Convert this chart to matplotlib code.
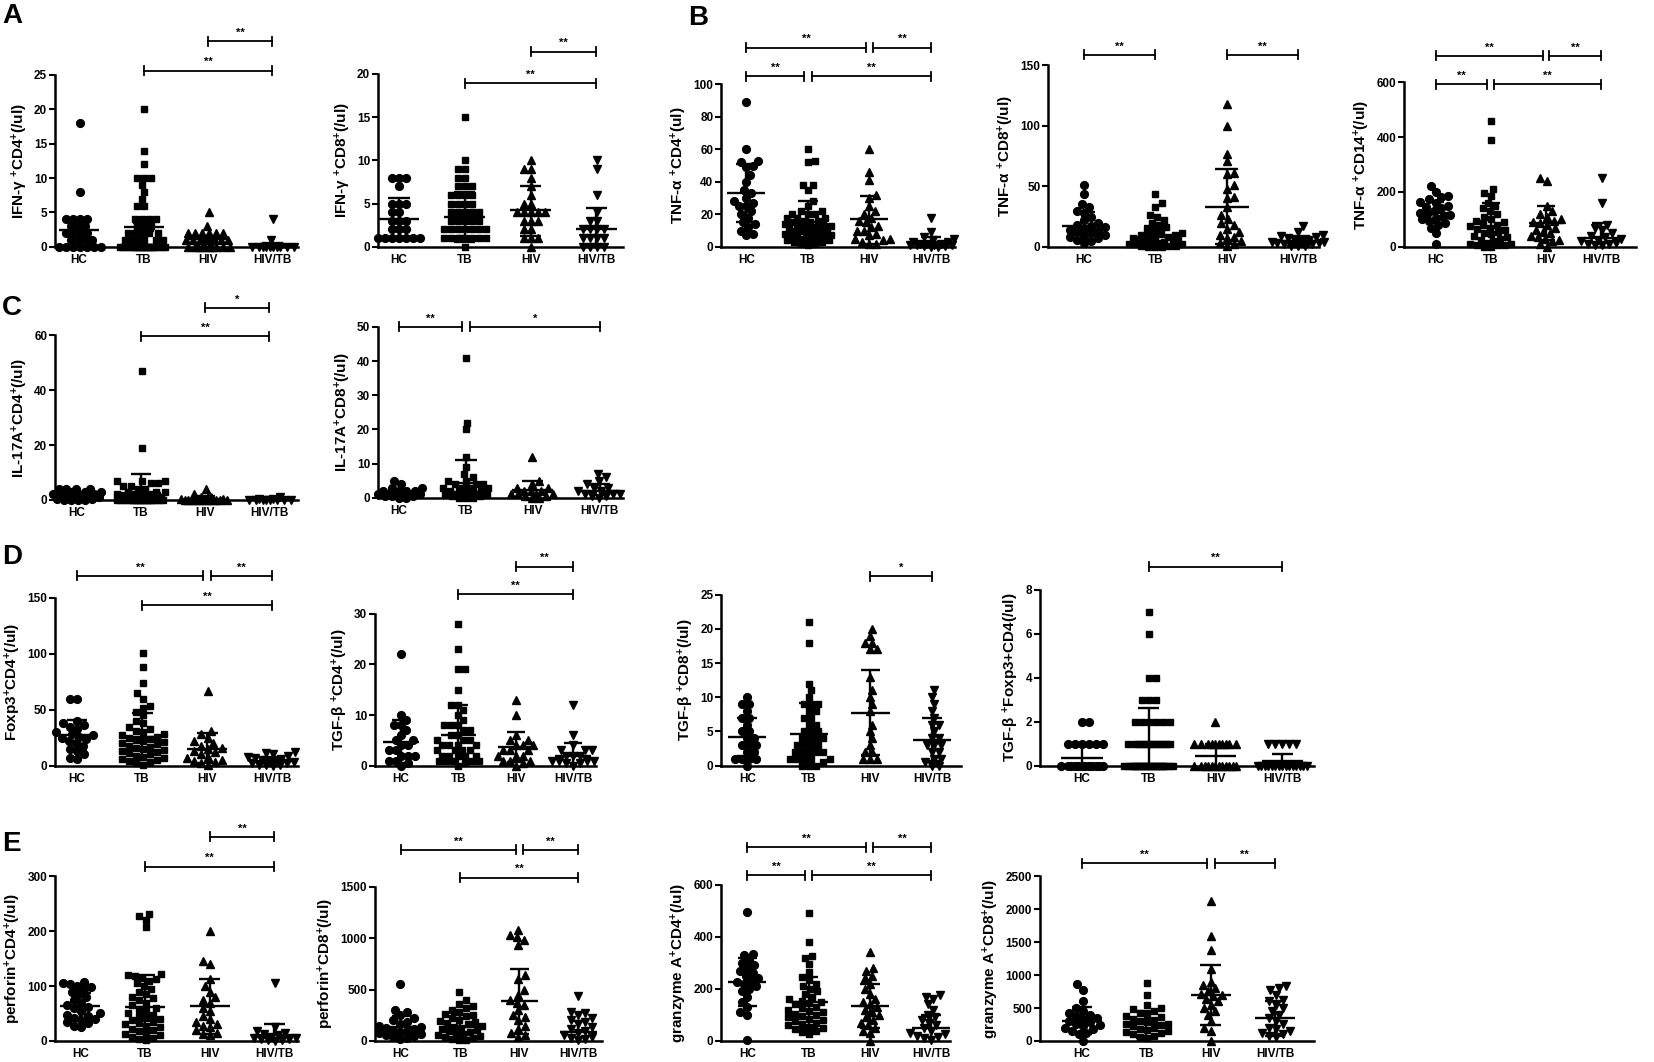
import numpy as np
import matplotlib
matplotlib.use("Agg")
import matplotlib.pyplot as plt

W, H = 1654, 1062
RW, RH = 1567.0, 1007.0          # reference layout measured at this scale
GROUPS = ["HC", "TB", "HIV", "HIV/TB"]
MARKERS = [("o", 5.6), ("s", 5.0), ("^", 6.0), ("v", 6.0)]

# ---- data (per group: HC, TB, HIV, HIV/TB) -------------------------------
IFNG_CD4 = [
    [18, 8, 4, 4, 4, 4, 3, 3, 3, 2, 2, 2, 2, 1, 1, 1, 1, 0, 0, 0, 0, 0, 0, 0],
    [20, 14, 12, 10, 10, 10, 9, 8, 7, 6, 6, 4, 4, 4, 4, 3, 3, 3, 2, 2, 2, 2, 2,
     1, 1, 1, 1, 1, 1] + [0] * 20,
    [5, 3, 2, 2, 2, 2, 2, 2, 1, 1, 1, 1, 1, 1, 1, 1] + [0] * 10,
    [4, 1] + [0] * 10,
]
IFNG_CD4_BAR = ([2.4, 2.9, 1.2, 0.2], [1.6, 2.3, 0.8, 0], [3.3, 3.5, 1.6, 0.5])

IFNG_CD8 = [
    [8, 8, 8, 7, 5, 5, 5, 4, 4, 3, 3, 3, 2, 2, 2, 1, 1, 1, 1, 1, 1, 1],
    [15, 10, 9, 9, 8, 8, 7, 7, 7, 6, 6, 6, 6, 5, 5, 5, 5, 4, 4, 4, 4, 4, 3, 3, 3,
     3, 3, 2, 2, 2, 2, 2, 2, 2, 1, 1, 1, 1, 1, 1, 1, 1, 0],
    [10, 9, 9, 8, 7, 6, 5, 5, 4, 4, 4, 4, 4, 3, 3, 3, 2, 2, 1, 1, 1, 0],
    [10, 9, 6, 4, 3, 3, 2, 2, 2, 2, 1, 1, 1, 1, 0, 0, 0, 0],
]
IFNG_CD8_BAR = ([3.2, 3.5, 4.2, 2.0], [0.8, 0.6, 1.3, 0], [5.6, 6.3, 7.0, 4.5])

TNFA_CD4 = [
    [89, 60, 53, 52, 50, 49, 44, 40, 35, 33, 30, 28, 27, 25, 25, 22, 20, 18, 15,
     14, 12, 10, 8, 7],
    [60, 53, 52, 38, 38, 35, 28, 25, 22, 22, 20, 20, 20, 18, 18, 18, 16, 16, 15,
     15, 14, 14, 13, 13, 12, 12, 11, 11, 10, 10, 10, 9, 9, 8, 8, 7, 7, 6, 6, 5,
     5, 5, 4, 4, 3, 3, 2, 2, 1],
    [60, 46, 41, 32, 30, 25, 22, 20, 18, 16, 15, 13, 12, 10, 10, 8, 7, 5, 5, 4,
     3, 2, 2],
    [18, 9, 6, 5, 4, 3, 3, 2, 2, 2, 1, 1, 1, 1, 0.5, 0.5, 0, 0],
]
TNFA_CD4_BAR = ([33, 15.5, 17, 2], [15, 3, 2, 0], [51, 28, 31, 6])

TNFA_CD8 = [
    [51, 44, 35, 33, 30, 28, 25, 22, 20, 18, 17, 16, 15, 14, 13, 12, 11, 10, 9,
     8, 7, 6, 5, 3],
    [44, 36, 33, 26, 25, 22, 20, 18, 16, 15, 14, 12, 11, 10, 10, 9, 8, 8, 7, 6,
     5, 5, 4, 4, 3, 3, 2, 2, 2, 1, 1, 1, 0, 0, 0],
    [118, 100, 77, 71, 61, 60, 51, 48, 41, 40, 33, 26, 23, 20, 18, 15, 12, 10,
     8, 7, 5, 3, 2, 1],
    [17, 12, 10, 9, 8, 7, 6, 5, 5, 4, 4, 3, 3, 2, 2, 1, 1, 0.5],
]
TNFA_CD8_BAR = ([17, 8, 33, 5], [5, 0, 2, 1], [29, 17, 64, 9])

TNFA_CD14 = [
    [220, 200, 185, 180, 175, 165, 160, 150, 145, 140, 130, 125, 120, 115, 110,
     105, 100, 95, 85, 80, 70, 50, 10],
    [460, 390, 210, 195, 185, 160, 150, 140, 130, 120, 110, 100, 95, 90, 85, 80,
     75, 70, 65, 60, 55, 50, 45, 40, 35, 30, 25, 20, 15, 10, 10, 5, 5, 5, 0, 0],
    [250, 240, 150, 130, 120, 110, 100, 95, 90, 85, 80, 70, 60, 55, 50, 40, 35,
     30, 25, 20, 10, 0],
    [250, 160, 80, 70, 60, 50, 40, 35, 30, 25, 20, 15, 10, 10, 5, 5],
]
TNFA_CD14_BAR = ([125, 70, 88, 32], [85, 0, 25, 0], [165, 160, 150, 85])

IL17_CD4 = [
    [4, 4, 4, 4, 3, 3, 3, 2, 2, 2, 2, 1, 1, 1, 1, 1, 0.5, 0.5, 0, 0, 0, 0],
    [47, 19, 7, 7, 7, 6, 6, 5, 5, 4, 4, 3, 3, 3, 2, 2, 2, 2, 1, 1, 1, 1, 1, 1]
    + [0] * 20,
    [4, 2, 1, 1, 1, 0.5, 0.5, 0.5] + [0] * 12,
    [1, 0.5, 0.5] + [0] * 8,
]
IL17_CD4_BAR = ([1.0, 2.5, 0.5, 0.2], [0, 0, 0, 0], [2.0, 9.5, 1.5, 0.8])

IL17_CD8 = [
    [5, 4, 3, 3, 2, 2, 2, 2, 1, 1, 1, 1, 1, 1, 0.5, 0.5, 0.5, 0, 0],
    [41, 22, 20, 12, 9, 7, 6, 5, 5, 4, 4, 4, 3, 3, 3, 3, 2, 2, 2, 2, 2, 1, 1, 1,
     1, 1, 1, 0.5, 0.5, 0, 0, 0],
    [12, 5, 4, 3, 3, 2, 2, 2, 1, 1, 1, 1, 0.5, 0.5, 0, 0],
    [7, 6, 5, 4, 3, 3, 2, 2, 1, 1, 1, 0.5, 0.5, 0],
]
IL17_CD8_BAR = ([1.5, 4.2, 2.3, 2.0], [0.5, 0, 0, 0], [2.5, 11, 5, 4])

FOXP3_CD4 = [
    [60, 60, 40, 38, 36, 35, 33, 30, 28, 27, 26, 25, 24, 22, 20, 18, 15, 13, 10,
     7, 6],
    [101, 88, 74, 65, 60, 53, 52, 48, 45, 40, 38, 35, 33, 31, 30, 28, 27, 26, 25,
     24, 23, 22, 21, 20, 19, 18, 17, 16, 15, 14, 13, 12, 11, 10, 9, 8, 7, 6, 5,
     4, 3, 2, 1],
    [67, 31, 28, 25, 22, 20, 18, 16, 15, 13, 12, 10, 8, 7, 5, 4, 3, 2, 1],
    [12, 11, 10, 9, 8, 7, 6, 5, 4, 3, 3, 2, 2, 1, 1, 0.5, 0],
]
FOXP3_CD4_BAR = ([27, 26, 15, 4], [13, 5, 2, 0], [41, 47, 29, 8])

TGFB_CD4 = [
    [22, 10, 9, 8, 8, 7, 6, 5, 5, 4, 4, 3, 3, 2, 2, 2, 1, 1, 0.5, 0],
    [28, 23, 19, 19, 15, 12, 12, 11, 10, 9, 8, 8, 8, 7, 7, 6, 6, 5, 5, 5, 4, 4,
     4, 4, 3, 3, 3, 3, 2, 2, 2, 2, 2, 1, 1, 1, 1, 1, 0.5, 0],
    [13, 10, 6, 5, 5, 4, 4, 4, 3, 3, 3, 2, 2, 2, 1, 1, 1, 0.5, 0],
    [12, 6, 4, 3, 3, 3, 2, 2, 2, 1, 1, 1, 1, 0.5, 0.5, 0],
]
TGFB_CD4_BAR = ([4.7, 6.0, 3.7, 2.0], [0.5, 0, 0.7, 0], [9.0, 12, 6.6, 4.4])

TGFB_CD8 = [
    [10, 9, 9, 8, 7, 7, 6, 5, 5, 4, 4, 3, 3, 3, 2, 2, 1, 1, 1, 1, 0],
    [21, 18, 12, 11, 10, 9, 9, 9, 8, 8, 7, 7, 6, 6, 5, 5, 5, 4, 4, 4, 4, 3, 3, 3,
     3, 2, 2, 2, 2, 2, 1, 1, 1, 1, 1, 0.5, 0, 0, 0],
    [20, 19, 18, 18, 17, 17, 13, 11, 10, 9, 8, 6, 5, 4, 3, 2, 2, 1, 1, 1],
    [11, 10, 9, 8, 7, 6, 6, 5, 4, 4, 3, 3, 3, 2, 2, 1, 1, 0.5, 0, 0],
]
TGFB_CD8_BAR = ([4.2, 4.6, 7.7, 3.8], [1.4, 0, 1.5, 0.7], [7.0, 9.2, 14.0, 7.0])

TGFB_FOXP3 = [
    [2, 2] + [1] * 6 + [0] * 12,
    [7, 6, 4, 4, 3, 3, 3] + [2] * 6 + [1] * 12 + [0] * 25,
    [2] + [1] * 10 + [0] * 12,
    [1] * 5 + [0] * 15,
]
TGFB_FOXP3_BAR = ([0.35, 1.0, 0.45, 0.2], [0, 0, 0, 0], [0.9, 2.6, 1.0, 0.55])

PERF_CD4 = [
    [108, 105, 103, 100, 98, 95, 90, 85, 80, 75, 70, 65, 62, 60, 55, 50, 48, 45,
     42, 40, 38, 35, 32, 28, 25],
    [232, 227, 220, 207, 122, 120, 118, 115, 112, 110, 105, 100, 95, 90, 85, 80,
     78, 75, 70, 65, 60, 58, 55, 50, 48, 45, 42, 40, 38, 35, 32, 30, 28, 25, 22,
     20, 18, 15, 12, 10, 8, 5, 3, 1],
    [200, 145, 140, 112, 100, 90, 80, 75, 70, 60, 55, 45, 40, 35, 30, 28, 25, 20,
     15, 12, 10],
    [105, 25, 18, 15, 12, 10, 8, 6, 5, 4, 3, 2, 1, 0],
]
PERF_CD4_BAR = ([63, 61, 63, 10], [38, 3, 12, 0], [88, 120, 113, 30])

PERF_CD8 = [
    [550, 300, 280, 250, 220, 200, 180, 160, 150, 140, 130, 120, 110, 100, 90,
     80, 70, 60, 50, 40, 30, 20],
    [480, 400, 360, 340, 320, 300, 280, 260, 250, 240, 220, 200, 190, 180, 170,
     160, 150, 140, 130, 120, 110, 100, 90, 80, 70, 60, 50, 40, 30, 20, 10, 5],
    [1080, 1030, 1010, 980, 930, 640, 600, 500, 450, 400, 370, 350, 300, 250,
     230, 200, 150, 120, 80, 60, 40],
    [440, 280, 270, 250, 220, 200, 180, 160, 140, 120, 100, 80, 60, 40, 30, 20,
     10],
]
PERF_CD8_BAR = ([140, 140, 385, 90], [35, 30, 65, 0], [245, 250, 705, 195])

GZMA_CD4 = [
    [495, 335, 330, 310, 300, 290, 280, 270, 260, 250, 240, 230, 225, 220, 210,
     200, 190, 170, 150, 130, 110, 100, 5],
    [490, 380, 325, 320, 295, 265, 245, 235, 220, 210, 200, 190, 180, 170, 160,
     155, 150, 145, 140, 130, 125, 120, 115, 110, 105, 100, 95, 90, 85, 80, 75,
     70, 65, 60, 55, 50, 45, 40, 35, 25],
    [340, 280, 270, 250, 240, 220, 200, 180, 160, 150, 140, 130, 120, 110, 100,
     90, 80, 70, 60, 50, 40, 30, 0],
    [175, 170, 160, 140, 120, 100, 90, 80, 70, 60, 50, 40, 30, 25, 20, 15, 10, 5],
]
GZMA_CD4_BAR = ([225, 148, 135, 48], [133, 50, 50, 0], [320, 245, 220, 100])

GZMA_CD8 = [
    [870, 780, 600, 500, 450, 420, 400, 380, 350, 330, 300, 280, 260, 240, 220,
     200, 180, 150, 120, 100, 0],
    [880, 700, 550, 500, 480, 450, 420, 400, 380, 360, 340, 320, 300, 280, 260,
     250, 240, 220, 200, 180, 160, 150, 140, 120, 100, 80, 60, 50],
    [2130, 1600, 1380, 1100, 900, 850, 800, 760, 720, 700, 680, 640, 600, 550,
     500, 450, 400, 300, 200, 150, 0],
    [840, 800, 780, 700, 620, 600, 550, 500, 450, 400, 350, 300, 250, 200, 180,
     150, 120, 100, 80, 60],
]
GZMA_CD8_BAR = ([310, 250, 695, 345], [110, 50, 235, 80], [510, 450, 1160, 610])

# ---- panels: values, bars, label, ymax, ystep, brackets, box ----------------
# box = (axis left, axis right, HC centre, HIV/TB centre, top tick y, zero y)
PANELS = [
    (IFNG_CD4, IFNG_CD4_BAR, r"IFN-γ $^{+}$CD4$^{+}$(/ul)", 25, 5,
     [(1, 3, 1.025, "**"), (2, 3, 1.196, "**")], (52, 282, 75, 258, 71, 234)),
    (IFNG_CD8, IFNG_CD8_BAR, r"IFN-γ $^{+}$CD8$^{+}$(/ul)", 20, 5,
     [(1, 3, 0.945, "**"), (2, 3, 1.128, "**")], (358, 590, 378, 565, 70, 234)),
    (TNFA_CD4, TNFA_CD4_BAR, r"TNF-α $^{+}$CD4$^{+}$(ul)", 100, 20,
     [(0, 1, 1.05, "**"), (1, 3, 1.05, "**"), (0, 2, 1.227, "**"),
      (2, 3, 1.227, "**")], (683, 905, 707, 882, 80, 234)),
    (TNFA_CD8, TNFA_CD8_BAR, r"TNF-α $^{+}$CD8$^{+}$(/ul)", 150, 50,
     [(0, 1, 1.058, "**"), (2, 3, 1.058, "**")], (993, 1250, 1027, 1230, 62, 234)),
    (TNFA_CD14, TNFA_CD14_BAR, r"TNF-α $^{+}$CD14$^{+}$(/ul)", 600, 200,
     [(0, 1, 0.987, "**"), (1, 3, 0.987, "**"), (0, 2, 1.16, "**"),
      (2, 3, 1.16, "**")], (1330, 1550, 1360, 1517, 78, 234)),
    (IL17_CD4, IL17_CD4_BAR, r"IL-17A$^{+}$CD4$^{+}$(/ul)", 60, 20,
     [(1, 3, 0.994, "**"), (2, 3, 1.167, "*")], (52, 282, 73, 255, 318, 474)),
    (IL17_CD8, IL17_CD8_BAR, r"IL-17A$^{+}$CD8$^{+}$(/ul)", 50, 10,
     [(0, 1, 1.0, "**"), (1, 3, 1.0, "*")], (358, 590, 378, 568, 310, 472)),
    (FOXP3_CD4, FOXP3_CD4_BAR, r"Foxp3$^{+}$CD4$^{+}$(/ul)", 150, 50,
     [(0, 2, 1.132, "**"), (2, 3, 1.132, "**"), (1, 3, 0.956, "**")],
     (52, 282, 73, 258, 567, 726)),
    (TGFB_CD4, TGFB_CD4_BAR, r"TGF-β $^{+}$CD4$^{+}$(/ul)", 30, 10,
     [(2, 3, 1.31, "**"), (1, 3, 1.13, "**")], (355, 565, 380, 543, 582, 726)),
    (TGFB_CD8, TGFB_CD8_BAR, r"TGF-β $^{+}$CD8$^{+}$(/ul)", 25, 5,
     [(2, 3, 1.11, "*")], (683, 910, 708, 883, 564, 726)),
    (TGFB_FOXP3, TGFB_FOXP3_BAR, r"TGF-β $^{+}$Foxp3+CD4(/ul)", 8, 2,
     [(1, 3, 1.13, "**")], (985, 1245, 1025, 1215, 559, 726)),
    (PERF_CD4, PERF_CD4_BAR, r"perforin$^{+}$CD4$^{+}$(/ul)", 300, 100,
     [(1, 3, 1.06, "**"), (2, 3, 1.24, "**")], (52, 282, 76, 260, 831, 987)),
    (PERF_CD8, PERF_CD8_BAR, r"perforin$^{+}$CD8$^{+}$(/ul)", 1500, 500,
     [(0, 2, 1.24, "**"), (2, 3, 1.24, "**"), (1, 3, 1.06, "**")],
     (355, 570, 380, 548, 841, 987)),
    (GZMA_CD4, GZMA_CD4_BAR, r"granzyme A$^{+}$CD4$^{+}$(/ul)", 600, 200,
     [(0, 2, 1.24, "**"), (2, 3, 1.24, "**"), (0, 1, 1.06, "**"),
      (1, 3, 1.06, "**")], (683, 900, 708, 882, 839, 987)),
    (GZMA_CD8, GZMA_CD8_BAR, r"granzyme A$^{+}$CD8$^{+}$(/ul)", 2500, 500,
     [(0, 2, 1.08, "**"), (2, 3, 1.08, "**")], (985, 1245, 1025, 1208, 831, 987)),
]

LETTERS = [("A", 2, 3), ("B", 652, 5), ("C", 2, 280), ("D", 2, 516), ("E", 2, 788)]

plt.rcParams["font.family"] = ["Liberation Sans", "DejaVu Sans"]
plt.rcParams["font.weight"] = "bold"
plt.rcParams["mathtext.fontset"] = "custom"
plt.rcParams["mathtext.rm"] = "Liberation Sans:bold"
plt.rcParams["mathtext.bf"] = "Liberation Sans:bold"
plt.rcParams["mathtext.it"] = "Liberation Sans:bold:italic"


def swarm(vals, x_ppu, y_ppu, d=7.0, max_hw=0.37):
    """Greedy beeswarm in pixel space; crowded rows get squeezed inside max_hw."""
    ypx = np.asarray(vals, float) * y_ppu
    hw = max_hw * x_ppu
    grid = np.arange(-hw, hw + 0.01, d / 4.0)
    cands = sorted(grid, key=lambda c: (round(abs(c), 3), -c))
    px, py = [], []
    off = np.zeros(len(ypx))
    for k in np.argsort(ypx, kind="stable"):
        y = ypx[k]
        near = [(x0, y0) for x0, y0 in zip(px, py) if abs(y0 - y) < d]
        best, best_score = 0.0, -1.0
        for c in cands:
            if not near:
                best = c
                break
            dmin = min(np.hypot(c - x0, y - y0) for x0, y0 in near)
            if dmin >= d:
                best = c
                break
            if dmin > best_score + 1e-6:
                best, best_score = c, dmin
        off[k] = best / x_ppu
        px.append(best)
        py.append(y)
    return off


fig = plt.figure(figsize=(W / 100, H / 100), dpi=100)

for vals, bars, label, ymax, ystep, brackets, box in PANELS:
    x0, x1, c0, c3, yt, yz = box
    ax = fig.add_axes([x0 / RW, 1 - yz / RH, (x1 - x0) / RW, (yz - yt) / RH])
    sp = (c3 - c0) / 3.0
    xlo, xhi = (x0 - c0) / sp, (x1 - c0) / sp
    ax.set_xlim(xlo, xhi)
    ax.set_ylim(0, ymax)
    ax_w_px = (x1 - x0) / RW * W
    ax_h_px = (yz - yt) / RH * H
    x_ppu = ax_w_px / (xhi - xlo)
    y_ppu = ax_h_px / ymax

    for i, g in enumerate(vals):
        m, ms = MARKERS[i]
        off = swarm(g, x_ppu, y_ppu)
        ax.plot(i + off, g, ls="none", marker=m, ms=ms, color="black",
                mec="black", clip_on=False, zorder=3)
        c, lo, hi = bars[0][i], bars[1][i], bars[2][i]
        kw = dict(color="black", lw=1.7, solid_capstyle="butt", clip_on=False,
                  zorder=4)
        ax.plot([i - 0.31, i + 0.31], [c, c], **kw)
        ax.plot([i, i], [max(lo, 0), hi], **kw)
        ax.plot([i - 0.16, i + 0.16], [hi, hi], **kw)
        if lo > 0:
            ax.plot([i - 0.16, i + 0.16], [lo, lo], **kw)

    # significance brackets
    tr = ax.get_xaxis_transform()
    tick = 4.5 / ax_h_px
    for a, b, h, lab in brackets:
        xa, xb = float(a), float(b)
        for a2, b2, h2, _ in brackets:
            if abs(h2 - h) < 1e-6 and (a2, b2) != (a, b):
                if b2 == a:
                    xa += 0.06
                if a2 == b:
                    xb -= 0.06
        kw = dict(color="black", lw=1.3, transform=tr, clip_on=False)
        ax.plot([xa, xb], [h, h], **kw)
        ax.plot([xa, xa], [h - tick, h + tick], **kw)
        ax.plot([xb, xb], [h - tick, h + tick], **kw)
        ax.annotate(lab, xy=((xa + xb) / 2, h), xycoords=tr, xytext=(0, 2.5),
                    textcoords="offset points", ha="center", va="bottom",
                    fontsize=8, fontweight="bold")

    ax.set_yticks(np.arange(0, ymax + ystep / 2, ystep))
    ax.set_xticks(range(4))
    ax.set_xticklabels(GROUPS)
    ax.tick_params(axis="x", length=0, pad=5, labelsize=8.5)
    ax.tick_params(axis="y", length=4, width=1.5, direction="out", pad=1.5,
                   labelsize=8.5)
    for s in ("top", "right"):
        ax.spines[s].set_visible(False)
    for s in ("left", "bottom"):
        ax.spines[s].set_linewidth(1.8)
    ax.set_ylabel(label, fontsize=11, fontweight="bold", labelpad=3)
    ax.patch.set_alpha(0)

for letter, lx, ly in LETTERS:
    fig.text(lx / RW, 1 - ly / RH, letter, fontsize=20, fontweight="bold",
             ha="left", va="top")

fig.savefig("out.png", dpi=100)
